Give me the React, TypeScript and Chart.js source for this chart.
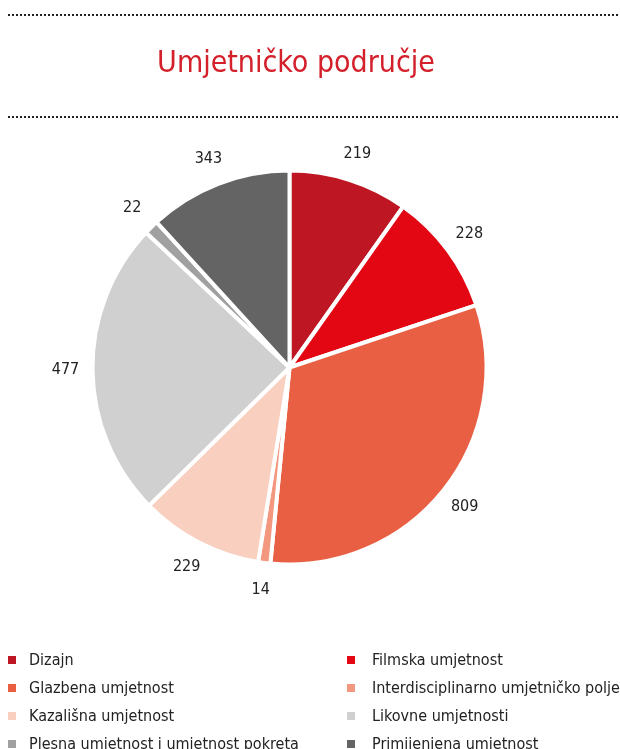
import React, { useEffect, useRef } from "react";
import { Chart, registerables } from "chart.js";

Chart.register(...registerables);

const title = "Umjetničko područje";
const categories = [
  "Dizajn",
  "Filmska umjetnost",
  "Glazbena umjetnost",
  "Interdisciplinarno umjetničko polje",
  "Kazališna umjetnost",
  "Likovne umjetnosti",
  "Plesna umjetnost i umjetnost pokreta",
  "Primijenjena umjetnost",
];
// slice shares (%) as drawn in the picture
const sliceShares = [9.8, 10.1, 31.7, 1.0, 10.1, 24.4, 1.2, 11.8];
// numbers printed next to the slices
const countLabels = ["219", "228", "809", "14", "229", "477", "22", "343"];
const colors = [
  "#be1622",
  "#e30613",
  "#e95f43",
  "#f3977f",
  "#f9cfc0",
  "#d0d0d0",
  "#a0a0a0",
  "#646464",
];

const FONT = '"DejaVu Sans Condensed", "Liberation Sans Narrow", sans-serif';

const decorPlugin = {
  id: "decor",
  afterDraw(chart: any) {
    const ctx = chart.ctx as CanvasRenderingContext2D;
    const W = chart.width;
    ctx.save();
    // dotted rules
    ctx.strokeStyle = "#222";
    ctx.lineWidth = 2;
    ctx.setLineDash([2, 2]);
    [15, 117].forEach((y) => {
      ctx.beginPath();
      ctx.moveTo(8, y);
      ctx.lineTo(W, y);
      ctx.stroke();
    });
    ctx.setLineDash([]);
    // title
    ctx.fillStyle = "#d3202a";
    ctx.font = "30px " + FONT;
    ctx.textAlign = "center";
    ctx.textBaseline = "alphabetic";
    ctx.fillText(title, 296, 72);

    // value labels
    const meta = chart.getDatasetMeta(0);
    ctx.fillStyle = "#222";
    ctx.font = "16px " + FONT;
    ctx.textAlign = "center";
    ctx.textBaseline = "middle";
    meta.data.forEach((arc: any, i: number) => {
      const p = arc.getProps(["startAngle", "endAngle", "x", "y", "outerRadius"], true);
      const mid = (p.startAngle + p.endAngle) / 2;
      const r = p.outerRadius + 27;
      ctx.fillText(countLabels[i], p.x + Math.cos(mid) * r, p.y + Math.sin(mid) * r);
    });

    // legend
    ctx.textAlign = "left";
    ctx.font = "16px " + FONT;
    categories.forEach((c, i) => {
      const col = i % 2;
      const row = Math.floor(i / 2);
      const y = 660 + row * 28;
      const mx = col === 0 ? 8 : 347;
      const tx = col === 0 ? 29 : 372;
      ctx.fillStyle = colors[i];
      ctx.fillRect(mx, y - 4, 8, 8);
      ctx.fillStyle = "#222";
      ctx.fillText(c, tx, y + 1);
    });
    ctx.restore();
  },
};

export default function App() {
  const ref = useRef<HTMLCanvasElement | null>(null);
  useEffect(() => {
    if (!ref.current) return;
    const chart = new Chart(ref.current, {
      type: "pie",
      data: {
        labels: categories,
        datasets: [
          {
            data: sliceShares,
            backgroundColor: colors,
            borderColor: "#ffffff",
            borderWidth: 4,
            hoverOffset: 0,
          },
        ],
      },
      options: {
        responsive: false,
        animation: false,
        radius: 197,
        layout: { padding: { left: 41, right: 82, top: 150, bottom: 164 } },
        plugins: {
          legend: { display: false },
          title: { display: false },
          tooltip: { enabled: false },
        },
      } as any,
      plugins: [decorPlugin],
    });
    return () => chart.destroy();
  }, []);
  return (
    <div style={{ position: "absolute", left: 0, top: 0, width: 620, height: 749, background: "#fff" }}>
      <canvas ref={ref} width={620} height={749} style={{ display: "block" }} />
    </div>
  );
}
